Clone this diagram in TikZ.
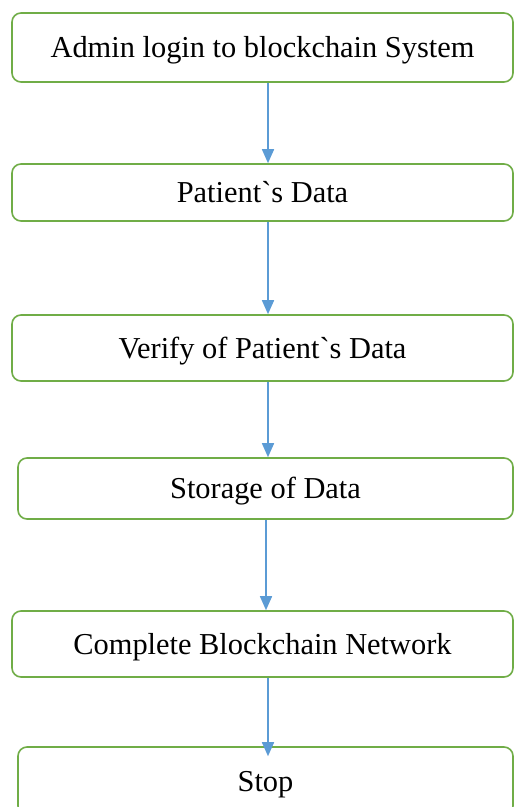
\documentclass[tikz,border=0pt]{standalone}
\usepackage{fontspec}
\setmainfont{Liberation Serif}
\usetikzlibrary{arrows.meta}
\definecolor{boxgreen}{RGB}{112,173,71}
\definecolor{flowblue}{RGB}{91,155,213}
\tikzset{
  stepbox/.style={draw=boxgreen, line width=0.8pt, rounded corners=4.5pt,
    fill=white, inner sep=0pt, text height=12.5pt, text depth=2.5pt,
    font=\fontsize{15.2}{18}\selectfont},
  flow/.style={draw=flowblue, line width=0.8pt,
    -{Triangle[length=7pt,width=6pt]}}
}
\begin{document}
\begin{tikzpicture}[x=0.5pt,y=-0.5pt]
\useasboundingbox (0,0) rectangle (514,807);
\clip (0,0) rectangle (514,807);
\node[stepbox, minimum width=250.5pt, minimum height=34.5pt] (b1) at (262.5,47.5) {Admin login to blockchain System};
\node[stepbox, minimum width=250.5pt, minimum height=28.5pt] (b2) at (262.5,192.5) {Patient\textasciigrave s Data};
\node[stepbox, minimum width=250.5pt, minimum height=33pt] (b3) at (262.5,348) {Verify of Patient\textasciigrave s Data};
\node[stepbox, minimum width=247.5pt, minimum height=30.5pt] (b4) at (265.5,488.5) {Storage of Data};
\node[stepbox, minimum width=250.5pt, minimum height=33pt] (b5) at (262.5,644) {Complete Blockchain Network};
\node[stepbox, minimum width=247.5pt, minimum height=34pt] (b6) at (265.5,781) {Stop};
\draw[flow] ([xshift=2.75pt]b1.south) -- ([xshift=2.75pt]b2.north);
\draw[flow] ([xshift=2.75pt]b2.south) -- ([xshift=2.75pt]b3.north);
\draw[flow] ([xshift=2.75pt]b3.south) -- ([xshift=1.25pt]b4.north);
\draw[flow] ([xshift=0.25pt]b4.south) -- ([xshift=1.75pt]b5.north);
\draw[flow] ([xshift=2.75pt]b5.south) -- ([xshift=1.25pt,yshift=-5pt]b6.north);
\end{tikzpicture}
\end{document}
